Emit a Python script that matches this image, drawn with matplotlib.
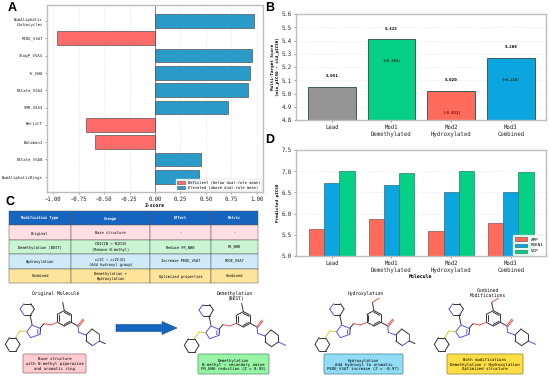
import matplotlib
matplotlib.use("Agg")
import matplotlib.pyplot as plt
import numpy as np
from matplotlib.patches import FancyArrow, FancyBboxPatch, Patch

W, H = 550, 377
MONO = "DejaVu Sans Mono"
plt.rcParams["font.family"] = MONO
plt.rcParams["text.hinting"] = "no_hinting"

# panel A
features = ["NumAliphatic\nCarbocycles", "PEOE_VSA7", "SlogP_VSA4", "fr_NH0", "EState_VSA4",
            "SMR_VSA3", "BertzCT", "BalabanJ", "EState_VSA8", "NumAliphaticRings"]
z_scores = [0.97, -0.96, 0.955, 0.93, 0.915, 0.715, -0.68, -0.59, 0.45, 0.435]
z_ticks = [-1.0, -0.75, -0.5, -0.25, 0.0, 0.25, 0.5, 0.75, 1.0]

# panel B
molecules = ["Lead", "Mod1\nDemethylated", "Mod2\nHydroxylated", "Mod3\nCombined"]
scores = [5.051, 5.415, 5.020, 5.269]
deltas = [None, "(+0.364)", "(-0.031)", "(+0.218)"]
score_colors = ["#959595", "#06D086", "#FF6B5B", "#0BA5E0"]

# panel D
app = [5.63, 5.87, 5.60, 5.77]
psen1 = [6.72, 6.67, 6.50, 6.50]
vcp = [7.01, 6.96, 7.01, 6.98]

# panel C
table_cols = ["Modification Type", "Change", "Effect", "Metric"]
table_rows = [
    ["Original", "Base structure", "-", "-"],
    ["Demethylation (BEST)", "CN1CCN \u2192 N1CCN\n(Remove N-methyl)", "Reduce FR_NH0", "FR_NH0"],
    ["Hydroxylation", "cc2C \u2192 cc2C(O)\n(Add hydroxyl group)", "Increase PEOE_VSA7", "PEOE_VSA7"],
    ["Combined", "Demethylation +\nHydroxylation", "Optimized properties", "Combined"],
]
row_colors = ["#FFDFE3", "#C9F5D3", "#CFEBF9", "#FFE59C"]

# structures row
mol_titles = ["Original Molecule", "Demethylation\n(BEST)", "Hydroxylation", "Combined\nModifications"]
mol_notes = ["Base structure\nwith N-methyl piperazine\nand aromatic ring",
             "Demethylation\nN-methyl \u2192 secondary amine\nFR_NH0 reduction (Z = 0.93)",
             "Hydroxylation\nAdd hydroxyl to aromatic\nPEOE_VSA7 increase (Z = -0.97)",
             "Both modifications\nDemethylation + Hydroxylation\nOptimized structure"]
note_colors = ["#FFCCD0", "#98F5A8", "#92DDF5", "#FFDD44"]
note_edges = ["#A08080", "#5F9F70", "#4F8FA8", "#A08F30"]


def px_axes(left, top, right, bottom):
    return fig.add_axes([left / W, 1 - bottom / H, (right - left) / W, (bottom - top) / H])


def style(ax):
    for s in ax.spines.values():
        s.set_color("#BDBDBD")
        s.set_linewidth(1.0)
    ax.set_axisbelow(True)
    ax.tick_params(length=1.5, width=0.4, pad=1.5, color="#555555", labelcolor="#222222")


fig = plt.figure(figsize=(W / 100, H / 100), dpi=100, facecolor="white")

# A
ax = px_axes(47, 5, 263, 192)
y = np.arange(len(features))
colors = ["#FF6B6B" if v < 0 else "#2A9BC9" for v in z_scores]
ax.barh(y, z_scores, height=0.8, color=colors, edgecolor="#555555", linewidth=0.5)
ax.axvline(0, color="#555555", linewidth=0.5)
ax.set_xlim(-1.06, 1.06)
ax.set_ylim(9.88, -0.92)
ax.set_yticks(y, features, fontsize=2.85)
ax.set_xticks(z_ticks, [f"{t:.2f}".replace("-", "\u2212") for t in z_ticks], fontsize=4)
ax.set_xlabel("Z-score", fontsize=3.4, fontweight="bold", labelpad=1)
ax.grid(axis="x", color="#E4E4E4", linewidth=0.4, linestyle="--")
style(ax)
ax.legend(handles=[Patch(facecolor="#FF6B6B", edgecolor="#555555", linewidth=0.4, label="Deficient (below dual-role mean)"),
                   Patch(facecolor="#2A9BC9", edgecolor="#555555", linewidth=0.4, label="Elevated (above dual-role mean)")],
          loc="lower right", fontsize=2.7, borderaxespad=0.2, handlelength=2.2, labelspacing=0.35,
          borderpad=0.4, framealpha=0.9, edgecolor="#CCCCCC", fancybox=True).get_frame().set_linewidth(0.3)

# B
ax = px_axes(296, 14, 546, 120)
x = np.arange(len(molecules))
ax.bar(x, scores, width=0.8, color=score_colors, edgecolor="#3C5A5A", linewidth=0.7)
for i, v in enumerate(scores):
    ax.text(i, v + 0.075, f"{v:.3f}", ha="center", va="center", fontsize=3.05, fontweight="bold")
    if deltas[i]:
        ax.text(i, v - 0.165, deltas[i], ha="center", va="center", fontsize=2.8, fontweight="bold",
                color="#8B0000" if deltas[i].startswith("(-") else "#06342A")
ax.set_xlim(-0.6, 3.59)
ax.set_ylim(4.8, 5.6)
ax.set_xticks(x, molecules, fontsize=4.05, linespacing=1.25)
ax.set_yticks(np.arange(4.8, 5.61, 0.1))
ax.tick_params(axis="y", labelsize=4.05)
ax.set_ylabel("Multi-Target Score\n(min_pIC50 - std_pIC50)", fontsize=3.1, fontweight="bold", labelpad=1.5)
ax.grid(axis="y", color="#E8E8E8", linewidth=0.4, linestyle="--")
style(ax)

# D
ax = px_axes(296, 150, 546, 256)
w = 0.255
ax.bar(x - w, app, width=w, color="#FF6B5B", edgecolor="#8A5550", linewidth=0.5, label="APP")
ax.bar(x, psen1, width=w, color="#0BA5E0", edgecolor="#2A6F88", linewidth=0.5, label="PSEN1")
ax.bar(x + w, vcp, width=w, color="#06D086", edgecolor="#2A7F60", linewidth=0.5, label="VCP")
ax.set_xlim(-0.6, 3.59)
ax.set_ylim(5.0, 7.5)
ax.set_xticks(x, molecules, fontsize=4.05, linespacing=1.25)
ax.set_yticks([5.0, 5.5, 6.0, 6.5, 7.0, 7.5])
ax.tick_params(axis="y", labelsize=4.05)
ax.set_ylabel("Predicted pIC50", fontsize=3.1, fontweight="bold", labelpad=1.5)
ax.set_xlabel("Molecule", fontsize=3.5, fontweight="bold", labelpad=1)
ax.grid(axis="y", color="#E8E8E8", linewidth=0.4, linestyle="--")
style(ax)
leg = ax.legend(loc="lower right", fontsize=3.1, borderaxespad=0.1, handlelength=2.8, labelspacing=0.5,
                borderpad=0.5, framealpha=0.9, edgecolor="#CCCCCC")
leg.get_frame().set_linewidth(0.3)

# C table
ax = px_axes(9, 211, 258, 283)
ax.axis("off")
tb = ax.table(cellText=table_rows, colLabels=table_cols, colWidths=[62 / 249, 79 / 249, 61 / 249, 47 / 249],
              cellLoc="center", bbox=[0, 0, 1, 1])
tb.auto_set_font_size(False)
tb.set_fontsize(2.6)
for (r, c), cell in tb.get_celld().items():
    cell.set_linewidth(0.35)
    cell.set_edgecolor("#555555")
    if r == 0:
        cell.set_facecolor("#1565C0")
        cell.set_text_props(color="white", fontweight="bold")
    else:
        cell.set_facecolor(row_colors[r - 1])

# overlay in pixel coordinates for labels, arrow and structures
ov = fig.add_axes([0, 0, 1, 1], zorder=-1)
ov.set_xlim(0, W)
ov.set_ylim(H, 0)
ov.axis("off")

for lab, lx, ly in [("A", 12, 8), ("B", 270, 8), ("C", 10, 202), ("D", 270, 140)]:
    ov.text(lx, ly, lab, fontsize=9, fontweight="bold", family="Liberation Sans", ha="center", va="center")

ov.add_patch(FancyArrow(116, 328, 61, 0, width=7, head_width=13, head_length=15, length_includes_head=True,
                        facecolor="#1565C0", edgecolor="#0D47A1", linewidth=0.4))

# skeleton in zoomed px (1/3 of a real pixel), same for all four structures
c_bonds = [
    (72, 26, 92, 26), (92, 26, 103, 42), (103, 42, 92, 60), (92, 60, 72, 60),
    (90, 60, 96, 88),  # pyridine to triazole
    (120, 100, 132, 86), (122, 100, 120, 118), (47, 128, 28, 128), (28, 128, 16, 148), (16, 148, 28, 168),
    (28, 168, 48, 168), (48, 168, 60, 148), (60, 148, 47, 128),
    (172, 82, 172, 58), (172, 58, 193, 47), (193, 47, 214, 58), (214, 58, 214, 82), (214, 82, 193, 93),
    (193, 93, 172, 82), (176, 79, 176, 61), (193, 52, 210, 61), (210, 79, 193, 88),
    (214, 82, 234, 93), (258, 120, 276, 102), (276, 102, 298, 118), (278, 152, 258, 138), (258, 138, 258, 120),
]


def bond(x0, y0, x1, y1, ox, oy, color="#333333", lw=0.7):
    ov.plot([ox + x0 / 3, ox + x1 / 3], [oy + y0 / 3, oy + y1 / 3], color=color, lw=lw, solid_capstyle="round")


def draw_molecule(ox, oy, hydroxyl, demethyl):
    for b in c_bonds:
        bond(*b, ox, oy)
    # heteroatom bonds
    bond(60, 42, 72, 26, ox, oy, "#5555EE")
    bond(60, 42, 72, 60, ox, oy, "#5555EE")
    bond(96, 90, 120, 100, ox, oy, "#5555EE")
    bond(96, 90, 80, 110, ox, oy, "#5555EE")
    bond(120, 118, 92, 128, ox, oy, "#5555EE")
    bond(92, 128, 80, 110, ox, oy, "#5555EE")
    bond(114, 104, 113, 116, ox, oy, "#5555EE")
    bond(80, 110, 60, 108, ox, oy, "#D8C830")
    bond(60, 108, 47, 128, ox, oy, "#D8C830")
    bond(132, 86, 152, 90, ox, oy, "#E05555")
    bond(152, 90, 172, 82, ox, oy, "#E05555")
    bond(233, 92, 249, 72, ox, oy, "#E05555")
    bond(237, 94, 252, 75, ox, oy, "#E05555")
    bond(234, 93, 236, 112, ox, oy, "#5555EE")
    bond(236, 112, 258, 120, ox, oy, "#5555EE")
    bond(193, 47, 188, 22, ox, oy)
    if hydroxyl:
        bond(188, 22, 208, 10, ox, oy, "#E05555")
    if demethyl:
        bond(298, 118, 298, 138, ox, oy)
        bond(298, 138, 278, 152, ox, oy)
        bond(298, 138, 320, 148, ox, oy, "#5555EE")
    else:
        bond(298, 118, 298, 138, ox, oy, "#5555EE")
        bond(298, 138, 278, 152, ox, oy, "#5555EE")
        bond(298, 138, 316, 146, ox, oy)


mol_pos = [(0, 295, False, False), (179, 296, False, True), (309.7, 295, True, False), (429, 295, True, True)]
title_pos = [(55.7, 294), (235, 296), (366, 294), (488, 293)]
note_boxes = [(23, 354, 86, 373), (198, 354, 269, 374), (324, 354, 403, 374), (447, 354, 523, 374)]

for i in range(4):
    draw_molecule(*mol_pos[i])
    ov.text(*title_pos[i], mol_titles[i], fontsize=3.3, ha="center", va="center", linespacing=1.1)
    x0, y0, x1, y1 = note_boxes[i]
    ov.add_patch(FancyBboxPatch((x0 + 1, y0 + 1), x1 - x0 - 2, y1 - y0 - 2, boxstyle="round,pad=1,rounding_size=1.5",
                                facecolor=note_colors[i], edgecolor=note_edges[i], linewidth=0.6))
    ov.text((x0 + x1) / 2, (y0 + y1) / 2, mol_notes[i], fontsize=2.9, ha="center", va="center", linespacing=1.15)

fig.savefig("out.png", dpi=100)
